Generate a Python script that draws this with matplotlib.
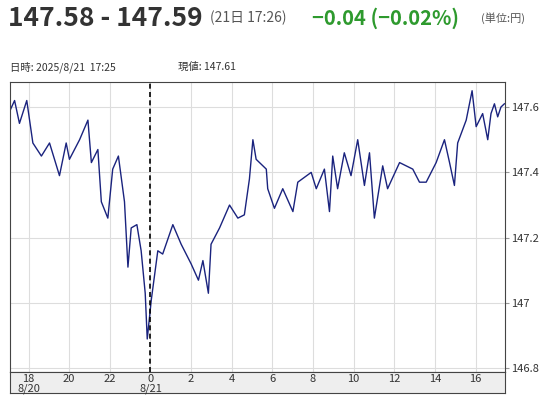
import matplotlib
matplotlib.use("Agg")
import matplotlib.pyplot as plt

plt.rcParams['font.family'] = ['Noto Sans CJK JP', 'DejaVu Sans']

hours = [-6.91, -6.69, -6.45, -6.09, -5.79, -5.37, -4.97, -4.48, -4.15, -3.99, -3.49, -3.08,
         -2.91, -2.59, -2.42, -2.10, -1.86, -1.58, -1.28, -1.11, -0.95, -0.67, -0.46, -0.26,
         -0.16, 0.04, 0.36, 0.60, 1.10, 1.51, 2.00, 2.36, 2.58, 2.85, 2.98, 3.40, 3.89, 4.30,
         4.62, 4.87, 5.04, 5.20, 5.70, 5.77, 6.10, 6.51, 7.01, 7.25, 7.91, 8.16, 8.56, 8.81,
         8.97, 9.21, 9.54, 9.87, 10.20, 10.53, 10.78, 11.02, 11.43, 11.67, 12.26, 12.91, 13.24,
         13.57, 14.06, 14.47, 14.72, 14.96, 15.12, 15.54, 15.83, 16.03, 16.35, 16.60, 16.76,
         16.93, 17.09, 17.25, 17.42]
prices = [147.59, 147.62, 147.55, 147.62, 147.49, 147.45, 147.49, 147.39, 147.49, 147.44, 147.50, 147.56,
          147.43, 147.47, 147.31, 147.26, 147.41, 147.45, 147.31, 147.11, 147.23, 147.24, 147.16, 147.03,
          146.89, 147.01, 147.16, 147.15, 147.24, 147.18, 147.12, 147.07, 147.13, 147.03, 147.18, 147.23,
          147.30, 147.26, 147.27, 147.38, 147.50, 147.44, 147.41, 147.35, 147.29, 147.35, 147.28, 147.37,
          147.40, 147.35, 147.41, 147.28, 147.45, 147.35, 147.46, 147.39, 147.50, 147.36, 147.46, 147.26,
          147.42, 147.35, 147.43, 147.41, 147.37, 147.37, 147.43, 147.50, 147.43, 147.36, 147.49, 147.56,
          147.65, 147.54, 147.58, 147.50, 147.58, 147.61, 147.57, 147.60, 147.61]

xtick_pos = [-6, -4, -2, 0, 2, 4, 6, 8, 10, 12, 14, 16]
xtick_labels = ['18\n8/20', '20', '22', '0\n8/21', '2', '4', '6', '8', '10', '12', '14', '16']
ytick_pos = [146.8, 147.0, 147.2, 147.4, 147.6]
ytick_labels = ['146.8', '147', '147.2', '147.4', '147.6']

W, H = 547, 400
fig = plt.figure(figsize=(W/100, H/100), dpi=100)
L, R, T, B = 9.5, 504.6, 81.9, 372.3
ax = fig.add_axes([L/W, 1-B/H, (R-L)/W, (B-T)/H])
xmin, xmax = -6.94, 17.43
ax.set_xlim(xmin, xmax)
ax.set_ylim(146.788, 147.677)
for x in xtick_pos:
    ax.axvline(x, color='#dddddd', lw=0.8, zorder=0)
for y in ytick_pos:
    ax.axhline(y, color='#dddddd', lw=0.8, zorder=0)
ax.axvline(0, color='black', lw=1.2, ls=(0, (3, 2)), zorder=3)
ax.plot(hours, prices, color='#1a237e', lw=1.0, zorder=2)
ax.set_xticks([])
ax.yaxis.tick_right()
ax.set_yticks(ytick_pos)
ax.set_yticklabels(ytick_labels, fontsize=8, color='#333333')
ax.tick_params(axis='y', length=3, color='#999999', pad=2)
for s in ax.spines.values():
    s.set_color('#444444'); s.set_linewidth(0.8)

bx = fig.add_axes([L/W, 1-392.8/H, (R-L)/W, (392.8-B)/H])
bx.set_facecolor('#eeeeee')
bx.set_xlim(xmin, xmax); bx.set_ylim(0, 1)
bx.set_xticks([]); bx.set_yticks([])
for s in bx.spines.values():
    s.set_color('#444444'); s.set_linewidth(0.8)
for x, lab in zip(xtick_pos, xtick_labels):
    bx.text(x, 0.93, lab, ha='center', va='top', fontsize=8, color='#333333', linespacing=0.95)

fig.text(8/W, 1-18/H, '147.58 - 147.59', fontsize=19, fontweight='bold', color='#333333', va='center')
fig.text(210/W, 1-18/H, '(21日 17:26)', fontsize=10, color='#555555', va='center')
fig.text(312/W, 1-18/H, '−0.04 (−0.02%)', fontsize=14.5, fontweight='bold', color='#2e9a2e', va='center')
fig.text(481/W, 1-18/H, '(単位:円)', fontsize=8, color='#555555', va='center')
fig.text(10/W, 1-67/H, '日時: 2025/8/21  17:25', fontsize=7.5, color='#333333', va='center')
fig.text(178/W, 1-67/H, '現値: 147.61', fontsize=7.5, color='#333333', va='center')

fig.savefig('out.png', dpi=100)
